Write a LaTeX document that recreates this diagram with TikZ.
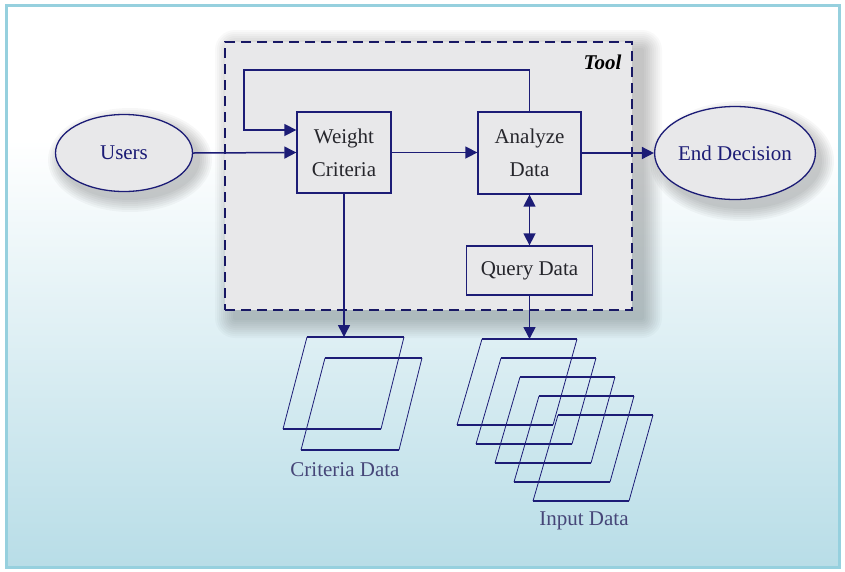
\documentclass[tikz,border=0pt]{standalone}
\usepackage{fontspec}
\setmainfont{Liberation Serif}
\usetikzlibrary{arrows.meta,calc,shapes.geometric}

\definecolor{navy}{RGB}{28,28,118}
\definecolor{dashnavy}{RGB}{24,24,100}
\definecolor{boxgray}{RGB}{232,232,234}
\definecolor{boxtext}{RGB}{38,38,44}
\definecolor{bgblue}{RGB}{184,221,231}
\definecolor{framecol}{RGB}{150,208,222}
\definecolor{labelcol}{RGB}{70,70,120}

\tikzset{
  box/.style={draw=navy,line width=1.3pt,fill=boxgray,text=boxtext,align=center,
    inner sep=0pt,font=\fontsize{21}{33}\selectfont},
  oval/.style={ellipse,draw=navy,line width=1.3pt,fill=boxgray,text=navy,
    inner sep=0pt,font=\fontsize{21}{25}\selectfont},
  arr/.style={draw=navy,line width=1.5pt,-{Triangle[length=12pt,width=12pt]}},
  sheetedge/.style={draw=navy,line width=1.8pt},
  sheetside/.style={draw=navy,line width=0.8pt},
  datalabel/.style={text=labelcol,font=\fontsize{21}{25}\selectfont}
}

\begin{document}
\begin{tikzpicture}[x=1pt,y=-1pt]
\useasboundingbox (0,0) rectangle (845,571);
\fill[white] (0,0) rectangle (845,571);
\shade[top color=white,bottom color=bgblue] (6,140) rectangle (839,567);
\draw[framecol,line width=3pt] (6,5) rectangle (839,567);

% soft shadows
\foreach \g in {2,4,...,20}
  \fill[black,opacity=0.025,rounded corners=\g pt] (235-\g,50-\g) rectangle (642+\g,318+\g);
\foreach \g in {2,4,...,14} {
  \fill[black,opacity=0.03] (130,160) ellipse ({68+\g} and {38+\g});
  \fill[black,opacity=0.03] (742,161) ellipse ({78+\g} and {46+\g});
}

% tool frame
\node[draw=dashnavy,line width=2.8pt,dash pattern=on 10pt off 6pt,fill=boxgray,
  minimum width=407pt,minimum height=268pt] (tool) at (428.5,176) {};
\node[anchor=east,font=\fontsize{21}{25}\selectfont\bfseries\itshape] (toollabel) at (625,62) {Tool};

\node[oval,minimum width=137pt,minimum height=77pt] (users) at (124,153) {Users};
\node[oval,minimum width=156pt,minimum height=93pt] (enddec) at (735,153) {End Decision};
\node[box,minimum width=94pt,minimum height=81pt] (weight) at (344,152.5) {Weight\\Criteria};
\node[box,minimum width=103pt,minimum height=82pt] (analyze) at (529.5,153) {Analyze\\Data};
\node[box,minimum width=126pt,minimum height=49pt] (query) at (529.5,270.5) {Query Data};

\coordinate (loopL) at (244,70);
\coordinate (critTop) at (344,337);
\coordinate (inTop) at (529.5,339);

\draw[arr] (users.east) -- (weight.west);
\draw[arr] (weight.east) -- (analyze.west |- weight.east);
\draw[arr] (analyze.east) -- (enddec.west);
\draw[arr] (analyze.north) |- (loopL) |- ([yshift=22.5pt]weight.west);
\draw[arr,{Triangle[length=12pt,width=12pt]}-{Triangle[length=12pt,width=12pt]}] (analyze.south) -- (query.north);
\draw[arr] (weight.south) -- (critTop);
\draw[arr] (query.south) -- (inTop);

% criteria sheets
\foreach \i in {0,1} {
  \begin{scope}[shift={(18*\i,21*\i)}]
    \draw[sheetedge] (307,337) -- (404,337) (283,429) -- (381,429);
    \draw[sheetside] (307,337) -- (283,429) (404,337) -- (381,429);
  \end{scope}
}
\node[datalabel] (critlabel) at (345,470) {Criteria Data};

% input sheets
\foreach \i in {0,...,4} {
  \begin{scope}[shift={(19*\i,19*\i)}]
    \draw[sheetedge] (482,339) -- (577,339) (457,425) -- (553,425);
    \draw[sheetside] (482,339) -- (457,425) (577,339) -- (553,425);
  \end{scope}
}
\node[datalabel] (inlabel) at (584,521) {Input Data};
\end{tikzpicture}
\end{document}
